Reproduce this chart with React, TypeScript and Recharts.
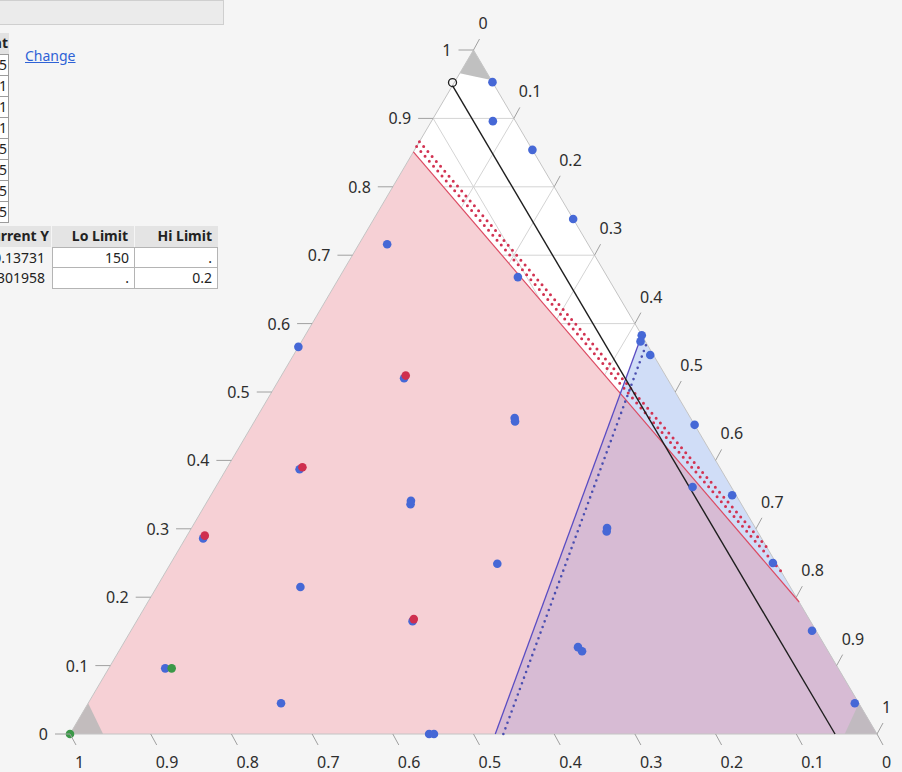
import { ComposedChart, XAxis, YAxis, Area, Line, Scatter } from "recharts"

// a mixture setting is [X1, X2, X3]: X1 at the top corner, X2 bottom left, X3 bottom right
type Mix = [number, number, number]

const tickValues = [0, 0.1, 0.2, 0.3, 0.4, 0.5, 0.6, 0.7, 0.8, 0.9, 1]
const tickLabels = ["0", "0.1", "0.2", "0.3", "0.4", "0.5", "0.6", "0.7", "0.8", "0.9", "1"]

const bluePoints: Mix[] = [
  [0.953, 0, 0.047],
  [0.896, 0.028, 0.076],
  [0.854, 0, 0.146],
  [0.753, 0, 0.247],
  [0.716, 0.249, 0.035],
  [0.668, 0.111, 0.221],
  [0.583, 0, 0.417],
  [0.574, 0.006, 0.42],
  [0.554, 0.004, 0.442],
  [0.566, 0.434, 0],
  [0.52, 0.326, 0.154],
  [0.462, 0.218, 0.32],
  [0.457, 0.22, 0.323],
  [0.387, 0.522, 0.091],
  [0.341, 0.407, 0.252],
  [0.336, 0.41, 0.254],
  [0.452, 0, 0.548],
  [0.349, 0.005, 0.646],
  [0.25, 0.004, 0.746],
  [0.361, 0.048, 0.591],
  [0.301, 0.184, 0.515],
  [0.296, 0.187, 0.517],
  [0.286, 0.692, 0.022],
  [0.249, 0.346, 0.405],
  [0.215, 0.607, 0.178],
  [0.165, 0.493, 0.342],
  [0.127, 0.307, 0.566],
  [0.121, 0.305, 0.574],
  [0.151, 0.005, 0.844],
  [0.045, 0.005, 0.95],
  [0.096, 0.834, 0.07],
  [0.045, 0.716, 0.239],
  [0, 0.555, 0.445],
  [0, 0.549, 0.451],
]

const redPoints: Mix[] = [
  [0.524, 0.322, 0.154],
  [0.39, 0.517, 0.093],
  [0.29, 0.688, 0.022],
  [0.168, 0.49, 0.342],
]

const greenPoints: Mix[] = [
  [0.096, 0.826, 0.078],
  [0, 1, 0],
]

// Y1 below its lower limit (150), Y2 above its upper limit (0.2)
const y1LowRegion: Mix[] = [[0, 1, 0], [0.851, 0.149, 0], [0.193, 0, 0.807], [0, 0, 1]]
const y2HighRegion: Mix[] = [[0, 0.473, 0.527], [0.583, 0, 0.417], [0, 0, 1]]
const y1Contour: Mix[] = [[0.851, 0.149, 0], [0.193, 0, 0.807]]
const y1BandInner: Mix[] = [[0.859, 0.141, 0], [0.238, 0, 0.762]]
const y1BandOuter: Mix[] = [[0.866, 0.134, 0], [0.272, 0, 0.728]]
const y2Contour: Mix[] = [[0, 0.473, 0.527], [0.583, 0, 0.417]]
const y2Band: Mix[] = [[0, 0.463, 0.537], [0.571, 0, 0.429]]
const x2Setting: Mix[] = [[0.948, 0.052, 0], [0, 0.052, 0.948]]

// component limits cut off the corners
const topCorner: Mix[] = [[0.966, 0.034, 0], [1, 0, 0], [0.956, 0, 0.044]]
const leftCorner: Mix[] = [[0, 1, 0], [0.045, 0.955, 0], [0, 0.959, 0.041]]
const rightCorner: Mix[] = [[0, 0.04, 0.96], [0.045, 0, 0.955], [0, 0, 1]]
const simplex: Mix[] = [[0, 1, 0], [1, 0, 0], [0, 0, 1]]

const componentCells = ["0.05", "0.31", "0.31", "0.31", "0.95", "0.95", "0.95", "0.95"]

type Pt = { x: number; y: number }
const toXY = ([x1, , x3]: Mix): Pt => ({ x: x3 + x1 / 2, y: x1 })

// where two contour lines meet
function crossing([p1, p2]: Pt[], [q1, q2]: Pt[]): Pt {
  const d1x = p2.x - p1.x, d1y = p2.y - p1.y
  const d2x = q2.x - q1.x, d2y = q2.y - q1.y
  const den = d1x * d2y - d1y * d2x
  const u = ((q1.x - p1.x) * d2y - (q1.y - p1.y) * d2x) / den
  return { x: p1.x + u * d1x, y: p1.y + u * d1y }
}

function cornerRange(m: Mix[]) {
  const [l, t, r] = m.map(toXY)
  const low = l.y + ((r.y - l.y) * (t.x - l.x)) / (r.x - l.x)
  return [
    { x: l.x, r: [l.y, l.y] },
    { x: t.x, r: [low, t.y] },
    { x: r.x, r: [r.y, r.y] },
  ]
}

// both limits violated: below the Y1 contour and right of the Y2 contour
const meet = crossing(y1Contour.map(toXY), y2Contour.map(toXY))
const overlapRegion: Pt[] = [toXY(y2Contour[0]), meet, toXY(y1Contour[1]), toXY([0, 0, 1])]

const inner = tickValues.slice(1, -1)
const gridSegments: Mix[][] = inner.flatMap((t) => [
  [[t, 1 - t, 0], [t, 0, 1 - t]],
  [[0, 1 - t, t], [1 - t, 0, t]],
  [[0, t, 1 - t], [1 - t, t, 0]],
])
const gridData = gridSegments.flatMap(([p, q]) => {
  const a = toXY(p)
  const b = toXY(q)
  return [a, b, { x: b.x, y: null }]
})

const leftAxis = tickValues.map((t, i) => ({ ...toXY([t, 1 - t, 0]), label: tickLabels[i] }))
const bottomAxis = tickValues.map((t, i) => ({ ...toXY([0, t, 1 - t]), label: tickLabels[i] }))
const rightAxis = tickValues.map((t, i) => ({ ...toXY([1 - t, 0, t]), label: tickLabels[i] }))

const labelFont = '"Noto Sans", sans-serif'
const uiFont = '"Noto Sans", "Open Sans", sans-serif'
const tickStroke = "#a0a0a0"
const labelColor = "#2e2e2e"

function LeftTick({ cx, cy, payload }: any) {
  return (
    <g>
      <line x1={cx - 15} y1={cy} x2={cx} y2={cy} stroke={tickStroke} />
      <text x={cx - 22} y={cy + 6} textAnchor="end" fontSize={16} fill={labelColor} fontFamily={labelFont}>
        {payload.label}
      </text>
    </g>
  )
}

function BottomTick({ cx, cy, payload }: any) {
  return (
    <g>
      <line x1={cx} y1={cy} x2={cx + 6} y2={cy + 11} stroke={tickStroke} />
      <text x={cx + 5} y={cy + 34} textAnchor="start" fontSize={16} fill={labelColor} fontFamily={labelFont}>
        {payload.label}
      </text>
    </g>
  )
}

function RightTick({ cx, cy, payload }: any) {
  return (
    <g>
      <line x1={cx} y1={cy} x2={cx + 6} y2={cy - 11} stroke={tickStroke} />
      <text x={cx + 5} y={cy - 21} textAnchor="start" fontSize={16} fill={labelColor} fontFamily={labelFont}>
        {payload.label}
      </text>
    </g>
  )
}

const dot = (color: string) => ({ cx, cy }: any) => <circle cx={cx} cy={cy} r={4.3} fill={color} />

function SettingsPanel() {
  const cell = { boxSizing: "border-box" as const, position: "absolute" as const, fontSize: 14, lineHeight: "19px", textAlign: "right" as const, color: "#222" }
  return (
    <>
      <div style={{ position: "absolute", left: -2, top: 0, width: 226, height: 25, background: "#ebebeb", border: "1px solid #cfcfcf", boxSizing: "border-box" }} />
      <div style={{ ...cell, left: -70, top: 33, width: 79, height: 21, background: "#e2e2e2", fontWeight: 700, paddingRight: 1 }}>Current</div>
      {componentCells.map((v, i) => (
        <div key={i} style={{ ...cell, left: -70, top: 54 + i * 21, width: 79, height: 22, background: "#fff", border: "1px solid #9c9c9c", paddingRight: 1 }}>
          {v}
        </div>
      ))}
      <a style={{ position: "absolute", left: 25, top: 46, fontSize: 14, color: "#2e62d6", textDecoration: "underline", fontFamily: uiFont }}>Change</a>

      <div style={{ ...cell, left: -40, top: 226, width: 91, height: 21, background: "#e4e4e4", fontWeight: 700, paddingRight: 2 }}>Current Y</div>
      <div style={{ ...cell, left: 52, top: 226, width: 82, height: 21, background: "#e4e4e4", fontWeight: 700, paddingRight: 6 }}>Lo Limit</div>
      <div style={{ ...cell, left: 135, top: 226, width: 83, height: 21, background: "#e4e4e4", fontWeight: 700, paddingRight: 6 }}>Hi Limit</div>

      <div style={{ ...cell, left: -40, top: 248, width: 87, height: 20, paddingRight: 2 }}>160.13731</div>
      <div style={{ ...cell, left: -40, top: 268, width: 87, height: 20, paddingRight: 2 }}>0.1301958</div>
      <div style={{ ...cell, left: 52, top: 247, width: 83, height: 21, background: "#fff", border: "1px solid #b4b4b4", paddingRight: 5 }}>150</div>
      <div style={{ ...cell, left: 134, top: 247, width: 84, height: 21, background: "#fff", border: "1px solid #b4b4b4", paddingRight: 5 }}>.</div>
      <div style={{ ...cell, left: 52, top: 267, width: 83, height: 22, background: "#fff", border: "1px solid #b4b4b4", paddingRight: 5 }}>.</div>
      <div style={{ ...cell, left: 134, top: 267, width: 84, height: 22, background: "#fff", border: "1px solid #b4b4b4", paddingRight: 5 }}>0.2</div>
    </>
  )
}

export default function App() {
  return (
    <div style={{ position: "fixed", left: 0, top: 0, width: 902, height: 772, background: "#f5f5f5", overflow: "hidden", fontFamily: uiFont }}>
      <div style={{ position: "absolute", left: 0, top: 0 }}>
        <ComposedChart width={902} height={772} margin={{ top: 50, right: 25, bottom: 38, left: 70 }}>
          <XAxis type="number" dataKey="x" domain={[0, 1]} hide />
          <YAxis type="number" dataKey="y" domain={[0, 1]} hide />

          <Area data={simplex.map(toXY).sort((p, q) => p.x - q.x)} dataKey="y" type="linear" fill="#ffffff" fillOpacity={1} stroke="none" isAnimationActive={false} zIndex={10} />
          <Line data={gridData} dataKey="y" type="linear" stroke="#d4d4d4" strokeWidth={1} dot={false} activeDot={false} connectNulls={false} isAnimationActive={false} zIndex={11} />

          <Area data={y1LowRegion.map(toXY)} dataKey="y" type="linear" fill="#f6d0d5" fillOpacity={1} stroke="none" isAnimationActive={false} zIndex={12} />
          <Area data={y2HighRegion.map(toXY)} dataKey="y" type="linear" fill="#d0ddf7" fillOpacity={1} stroke="none" isAnimationActive={false} zIndex={13} />
          <Area data={overlapRegion} dataKey="y" type="linear" fill="#d7bbd4" fillOpacity={1} stroke="none" isAnimationActive={false} zIndex={14} />
          <Area data={cornerRange(topCorner)} dataKey="r" type="linear" fill="#b9b9b9" fillOpacity={0.9} stroke="none" isAnimationActive={false} zIndex={15} />
          <Area data={leftCorner.map(toXY)} dataKey="y" type="linear" fill="#b9b9b9" fillOpacity={0.85} stroke="none" isAnimationActive={false} zIndex={15} />
          <Area data={rightCorner.map(toXY)} dataKey="y" type="linear" fill="#b9b9b9" fillOpacity={0.75} stroke="none" isAnimationActive={false} zIndex={15} />

          <Line data={[...simplex, simplex[0]].map(toXY)} dataKey="y" type="linear" stroke="#c4c4c4" strokeWidth={1} dot={false} activeDot={false} isAnimationActive={false} zIndex={21} />

          <Line data={y1Contour.map(toXY)} dataKey="y" type="linear" stroke="#dc4a62" strokeWidth={1.2} dot={false} activeDot={false} isAnimationActive={false} zIndex={22} />
          <Line data={y1BandInner.map(toXY)} dataKey="y" type="linear" stroke="#d23352" strokeWidth={3} strokeDasharray="0 6.5" strokeLinecap="round" dot={false} activeDot={false} isAnimationActive={false} zIndex={22} />
          <Line data={y1BandOuter.map(toXY)} dataKey="y" type="linear" stroke="#d23352" strokeWidth={3} strokeDasharray="0 6.5" strokeLinecap="round" dot={false} activeDot={false} isAnimationActive={false} zIndex={22} />
          <Line data={y2Contour.map(toXY)} dataKey="y" type="linear" stroke="#5a4cc2" strokeWidth={1.3} dot={false} activeDot={false} isAnimationActive={false} zIndex={22} />
          <Line data={y2Band.map(toXY)} dataKey="y" type="linear" stroke="#4b4fb0" strokeWidth={2.6} strokeDasharray="0 6" strokeLinecap="round" dot={false} activeDot={false} isAnimationActive={false} zIndex={22} />
          <Line data={x2Setting.map(toXY)} dataKey="y" type="linear" stroke="#1e1e1e" strokeWidth={1.4} dot={false} activeDot={false} isAnimationActive={false} zIndex={23} />
          <Scatter data={[x2Setting[0]].map(toXY)} dataKey="y" isAnimationActive={false} zIndex={24}
            shape={({ cx, cy }: any) => <circle cx={cx} cy={cy - 3} r={4} fill="none" stroke="#1e1e1e" strokeWidth={1.3} />} />

          <Scatter data={bluePoints.map(toXY)} dataKey="y" shape={dot("#4668d6")} isAnimationActive={false} zIndex={30} />
          <Scatter data={redPoints.map(toXY)} dataKey="y" shape={dot("#cf2f4f")} isAnimationActive={false} zIndex={31} />
          <Scatter data={greenPoints.map(toXY)} dataKey="y" shape={dot("#3b9848")} isAnimationActive={false} zIndex={32} />

          <Scatter data={leftAxis} dataKey="y" shape={LeftTick} isAnimationActive={false} zIndex={40} />
          <Scatter data={bottomAxis} dataKey="y" shape={BottomTick} isAnimationActive={false} zIndex={40} />
          <Scatter data={rightAxis} dataKey="y" shape={RightTick} isAnimationActive={false} zIndex={40} />
        </ComposedChart>
      </div>
      <SettingsPanel />
    </div>
  )
}
